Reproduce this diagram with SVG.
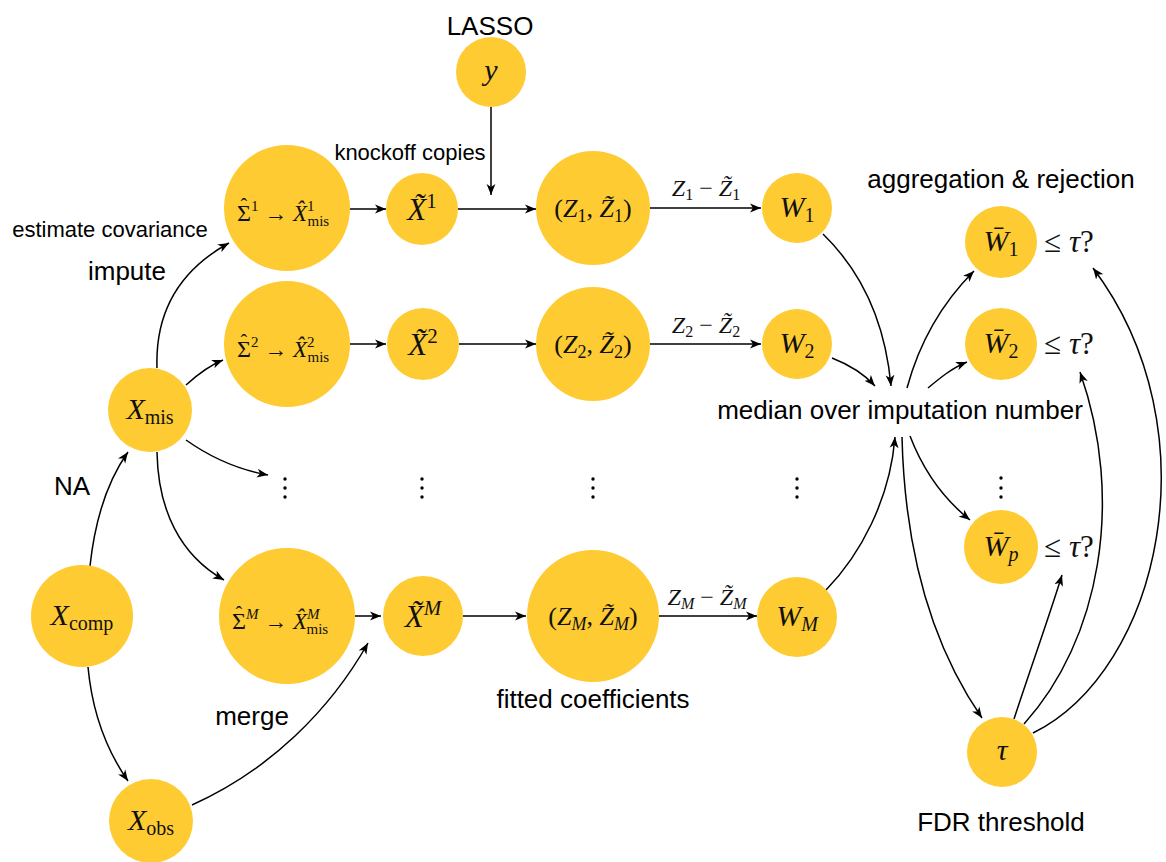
<svg xmlns="http://www.w3.org/2000/svg" width="1166" height="862" viewBox="0 0 1166 862">
<defs>
<marker id="ah" viewBox="0 0 12 10" refX="11" refY="5" markerWidth="12" markerHeight="10" markerUnits="userSpaceOnUse" orient="auto">
<path d="M0,0.6 L11,5 L0,9.4 L3,5 z" fill="#000"/>
</marker>
<style>
.n{fill:#FECB32}
.e{fill:none;stroke:#000;stroke-width:1.5;marker-end:url(#ah)}
.m{font-family:"Liberation Serif","DejaVu Serif",serif;font-style:italic;fill:#111;text-anchor:middle}
.st{text-anchor:start}
.r{font-style:normal}
.s{font-family:"Liberation Sans","DejaVu Sans",sans-serif;fill:#000}
.L{font-size:26px}
.S{font-size:22px}
.d{fill:#000}
</style>
</defs>
<rect width="1166" height="862" fill="#fff"/>

<g id="connectors">
<path class="e" d="M90 566 C95 520 108 480 128 452"/>
<path class="e" d="M88 667 C92 710 105 748 128 781"/>
<path class="e" d="M192 805 C270 770 330 710 368 643"/>
<path class="e" d="M157 368 C155 310 180 270 229 243"/>
<path class="e" d="M186 385 C197 375 208 366 223 360"/>
<path class="e" d="M186 440 C210 457 240 470 268 475"/>
<path class="e" d="M157 452 C158 510 180 555 224 580"/>
<path class="e" d="M350 209 L386 209"/>
<path class="e" d="M350 344 L386 344"/>
<path class="e" d="M355 616 L381 616"/>
<path class="e" d="M458 209 L536 209"/>
<path class="e" d="M491 107 L491 195"/>
<path class="e" d="M459 344 L536 344"/>
<path class="e" d="M463 616 L526 616"/>
<path class="e" d="M650 208 L761 208"/>
<path class="e" d="M650 344 L761 344"/>
<path class="e" d="M659 616 L757 616"/>
<path class="e" d="M823 234 C860 270 885 320 891 386"/>
<path class="e" d="M832 358 C850 365 865 375 875 386"/>
<path class="e" d="M826 590 C860 555 890 500 895 437"/>
<path class="e" d="M907 388 C920 340 945 300 974 271"/>
<path class="e" d="M928 388 C940 378 952 368 967 362"/>
<path class="e" d="M910 436 C925 475 945 500 970 520"/>
<path class="e" d="M902 437 C905 560 935 650 982 718"/>
<path class="e" d="M1014 719 C1030 670 1048 620 1062 575"/>
<path class="e" d="M1024 724 C1100 640 1125 500 1080 372"/>
<path class="e" d="M1033 733 C1160 670 1215 430 1093 268"/>
</g>

<g id="node-y"><circle class="n" cx="491" cy="72" r="35"/><text class="m" x="491" y="80" font-size="30">y</text></g>

<g id="node-sigma1"><circle class="n" cx="287" cy="208" r="63"/>
<text class="m st" x="237" y="221" font-size="23"><tspan class="r" font-size="24">Σ</tspan><tspan class="r" font-size="20" dx="-10.5" dy="-8">ˆ</tspan><tspan class="r" font-size="15" dx="3.8" dy="-2">1</tspan><tspan class="r" dy="10"> → </tspan>X̂<tspan class="r" font-size="15" dy="-10">1</tspan><tspan class="r" font-size="15" dx="-7" dy="15">mis</tspan></text></g>
<g id="node-sigma2"><circle class="n" cx="287" cy="344" r="63"/>
<text class="m st" x="237" y="357" font-size="23"><tspan class="r" font-size="24">Σ</tspan><tspan class="r" font-size="20" dx="-10.5" dy="-8">ˆ</tspan><tspan class="r" font-size="15" dx="3.8" dy="-2">2</tspan><tspan class="r" dy="10"> → </tspan>X̂<tspan class="r" font-size="15" dy="-10">2</tspan><tspan class="r" font-size="15" dx="-7" dy="15">mis</tspan></text></g>
<g id="node-sigmaM"><circle class="n" cx="287" cy="616" r="68"/>
<text class="m st" x="232" y="629" font-size="23"><tspan class="r" font-size="24">Σ</tspan><tspan class="r" font-size="20" dx="-10.5" dy="-8">ˆ</tspan><tspan font-size="15" dx="3.8" dy="-2">M</tspan><tspan class="r" dy="10"> → </tspan>X̂<tspan font-size="15" dy="-10">M</tspan><tspan class="r" font-size="15" dx="-13" dy="15">mis</tspan></text></g>

<g id="node-xt1"><circle class="n" cx="422" cy="209" r="36"/><text class="m" x="422" y="220" font-size="31">X̃<tspan class="r" font-size="21" dy="-12">1</tspan></text></g>
<g id="node-xt2"><circle class="n" cx="423" cy="344" r="36"/><text class="m" x="423" y="355" font-size="31">X̃<tspan class="r" font-size="21" dy="-12">2</tspan></text></g>
<g id="node-xtM"><circle class="n" cx="423" cy="616" r="40"/><text class="m" x="423" y="627" font-size="31">X̃<tspan font-size="21" dy="-12">M</tspan></text></g>

<g id="node-z1"><circle class="n" cx="593" cy="208" r="57"/><text class="m" x="593" y="217" font-size="26"><tspan class="r">(</tspan>Z<tspan class="r" font-size="18" dy="5">1</tspan><tspan class="r" dy="-5">, </tspan>Z̃<tspan class="r" font-size="18" dy="5">1</tspan><tspan class="r" dy="-5">)</tspan></text></g>
<g id="node-z2"><circle class="n" cx="593" cy="344" r="57"/><text class="m" x="593" y="353" font-size="26"><tspan class="r">(</tspan>Z<tspan class="r" font-size="18" dy="5">2</tspan><tspan class="r" dy="-5">, </tspan>Z̃<tspan class="r" font-size="18" dy="5">2</tspan><tspan class="r" dy="-5">)</tspan></text></g>
<g id="node-zM"><circle class="n" cx="593" cy="616" r="66"/><text class="m" x="593" y="625" font-size="26"><tspan class="r">(</tspan>Z<tspan font-size="18" dy="5">M</tspan><tspan class="r" dy="-5">, </tspan>Z̃<tspan font-size="18" dy="5">M</tspan><tspan class="r" dy="-5">)</tspan></text></g>

<g id="node-w1"><circle class="n" cx="797" cy="208" r="35"/><text class="m" x="797" y="217" font-size="30">W<tspan class="r" font-size="20" dy="5">1</tspan></text></g>
<g id="node-w2"><circle class="n" cx="797" cy="344" r="35"/><text class="m" x="797" y="353" font-size="30">W<tspan class="r" font-size="20" dy="5">2</tspan></text></g>
<g id="node-wM"><circle class="n" cx="797" cy="617" r="40"/><text class="m" x="797" y="626" font-size="30">W<tspan font-size="20" dy="5">M</tspan></text></g>

<g id="node-xmis"><circle class="n" cx="150" cy="410" r="42"/><text class="m" x="150" y="419" font-size="30">X<tspan class="r" font-size="20" dy="5">mis</tspan></text></g>
<g id="node-xcomp"><circle class="n" cx="82" cy="616" r="51"/><text class="m" x="82" y="625" font-size="30">X<tspan class="r" font-size="20" dy="5">comp</tspan></text></g>
<g id="node-xobs"><circle class="n" cx="151" cy="821" r="42"/><text class="m" x="151" y="830" font-size="30">X<tspan class="r" font-size="20" dy="5">obs</tspan></text></g>

<g id="node-wb1"><circle class="n" cx="1001" cy="242" r="36"/><text class="m" x="1001" y="251" font-size="30">W̄<tspan class="r" font-size="20" dy="5">1</tspan></text><text class="m" x="1069" y="252" font-size="31"><tspan class="r">≤ </tspan>τ<tspan class="r">?</tspan></text></g>
<g id="node-wb2"><circle class="n" cx="1001" cy="344" r="36"/><text class="m" x="1001" y="353" font-size="30">W̄<tspan class="r" font-size="20" dy="5">2</tspan></text><text class="m" x="1069" y="354" font-size="31"><tspan class="r">≤ </tspan>τ<tspan class="r">?</tspan></text></g>
<g id="node-wbp"><circle class="n" cx="1001" cy="547" r="37"/><text class="m" x="1001" y="556" font-size="30">W̄<tspan font-size="20" dy="5">p</tspan></text><text class="m" x="1069" y="557" font-size="31"><tspan class="r">≤ </tspan>τ<tspan class="r">?</tspan></text></g>
<g id="node-tau"><circle class="n" cx="1002" cy="752" r="35"/><text class="m" x="1002" y="760" font-size="30">τ</text></g>

<g id="dots">
<circle class="d" cx="285" cy="479" r="1.7"/><circle class="d" cx="285" cy="488" r="1.7"/><circle class="d" cx="285" cy="497" r="1.7"/>
<circle class="d" cx="422" cy="479" r="1.7"/><circle class="d" cx="422" cy="488" r="1.7"/><circle class="d" cx="422" cy="497" r="1.7"/>
<circle class="d" cx="593" cy="479" r="1.7"/><circle class="d" cx="593" cy="488" r="1.7"/><circle class="d" cx="593" cy="497" r="1.7"/>
<circle class="d" cx="797" cy="479" r="1.7"/><circle class="d" cx="797" cy="488" r="1.7"/><circle class="d" cx="797" cy="497" r="1.7"/>
<circle class="d" cx="1001" cy="478" r="1.7"/><circle class="d" cx="1001" cy="488" r="1.7"/><circle class="d" cx="1001" cy="497" r="1.7"/>
</g>

<g id="labels">
<text class="s L" x="490" y="35" text-anchor="middle">LASSO</text>
<text class="s S" x="410" y="160" text-anchor="middle">knockoff copies</text>
<text class="s S" x="110" y="237" text-anchor="middle">estimate covariance</text>
<text class="s L" x="127" y="280" text-anchor="middle">impute</text>
<text class="s L" x="72" y="495" text-anchor="middle">NA</text>
<text class="s L" x="252" y="725" text-anchor="middle">merge</text>
<text class="s L" x="593" y="708" text-anchor="middle">fitted coefficients</text>
<text class="s L" x="900" y="419" text-anchor="middle">median over imputation number</text>
<text class="s L" x="1001" y="188" text-anchor="middle">aggregation &amp; rejection</text>
<text class="s L" x="1001" y="831" text-anchor="middle">FDR threshold</text>
<text class="m" x="706" y="196" font-size="24">Z<tspan class="r" font-size="16" dy="4">1</tspan><tspan class="r" dy="-4"> − </tspan>Z̃<tspan class="r" font-size="16" dy="4">1</tspan></text>
<text class="m" x="706" y="333" font-size="24">Z<tspan class="r" font-size="16" dy="4">2</tspan><tspan class="r" dy="-4"> − </tspan>Z̃<tspan class="r" font-size="16" dy="4">2</tspan></text>
<text class="m" x="707" y="605" font-size="24">Z<tspan font-size="16" dy="4">M</tspan><tspan class="r" dy="-4"> − </tspan>Z̃<tspan font-size="16" dy="4">M</tspan></text>
</g>
</svg>
